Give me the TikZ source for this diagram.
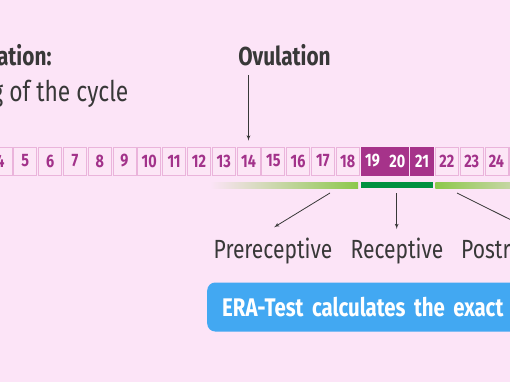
\documentclass[tikz,border=0pt]{standalone}
\usepackage{fontspec}
\setmainfont{Fira Sans}[FakeStretch=0.8]
\newfontfamily\erafont{Fira Sans}[FakeStretch=0.8, WordSpace=0.65]
\usetikzlibrary{arrows}
\usetikzlibrary{positioning}
\usetikzlibrary{math}

\definecolor{bgpink}{HTML}{FCE4F7}
\definecolor{dayfill}{HTML}{FCE6F6}
\definecolor{daybord}{HTML}{EAB4DB}
\definecolor{daytext}{HTML}{A2328A}
\definecolor{dayon}{HTML}{A6338A}
\definecolor{lightgr}{HTML}{8CC84B}
\definecolor{darkgr}{HTML}{009140}
\definecolor{erablue}{HTML}{42A8F2}
\definecolor{darktext}{HTML}{383838}

\tikzstyle{day} = [draw=daybord, fill=dayfill, line width=0.8pt, minimum width=23pt, minimum height=28pt, inner sep=0pt, text=daytext, font=\fontsize{18}{18}\selectfont\bfseries]
\tikzstyle{dayon} = [day, draw=dayon, fill=dayon, text=white]
\tikzstyle{title} = [inner sep=0pt, text=darktext, font=\fontsize{26}{30}\selectfont\bfseries]
\tikzstyle{phase} = [inner sep=0pt, text=darktext, font=\fontsize{26.3}{30}\selectfont]
\tikzstyle{erabox} = [fill=erablue, rounded corners=8pt, text=white, font=\erafont\fontsize{25.5}{30}\selectfont\bfseries, minimum height=49pt, inner xsep=15pt, text width=310pt, align=left]
\tikzstyle{arrow} = [->, >=latex', draw=darktext, line width=0.8pt]

\begin{document}
\begin{tikzpicture}[x=1pt, y=-1pt]

  \tikzmath{\w = 24.8; \xc = 248.5; \yb = 161;}

  % canvas
  \fill[bgpink] (0,0) rectangle (510,382);
  \useasboundingbox (0,0) rectangle (510,382);
  \clip (0,0) rectangle (510,382);

  % start of the cycle
  \node[title, anchor=base east] (menst) at (51.7,66) {Menstruation:};
  \node[phase, anchor=base east, font=\fontsize{28.5}{30}\selectfont] (begin) at (128.5,101.7) {Beginning of the cycle};

  % days
  \foreach \n in {3,...,25} {
    \ifnum\n>18 \ifnum\n<22 \def\st{dayon}\else\def\st{day}\fi \else\def\st{day}\fi
    \node[\st] (d\n) at ({\xc+(\n-14)*\w},\yb) {\n};
  }

  % ovulation
  \node[title, anchor=base] (ovul) at (284.5,65.7) {Ovulation};
  \coordinate (ovul-from) at (d14 |- 0,75);
  \draw[arrow] (ovul-from) -- ([yshift=6pt]d14.north);

  % phases
  \shade[left color=bgpink, right color=lightgr] (210,182) rectangle (358,188);
  \fill[darkgr] (361,182) rectangle (432.7,188);
  \shade[left color=lightgr, right color=bgpink] (435.3,182) rectangle (580,188);

  \node[phase, anchor=base] (pre) at (273,258) {Prereceptive};
  \node[phase, anchor=base] (rec) at (397,258) {Receptive};
  \node[phase, anchor=base west] (post) at (461,258) {Postreceptive};

  \coordinate (pre-from) at (330,193);
  \coordinate (rec-from) at (396.7,193);
  \coordinate (post-from) at (457,193);
  \draw[arrow] (pre-from) -- ([xshift=1pt,yshift=10pt]pre.north);
  \draw[arrow] (rec-from) -- (rec-from |- 0,229);
  \draw[arrow] (post-from) -- ([yshift=10pt]post.north);

  % ERA-Test
  \node[erabox, anchor=west] (era) at (207,307) {ERA-Test calculates the exact};

\end{tikzpicture}
\end{document}
